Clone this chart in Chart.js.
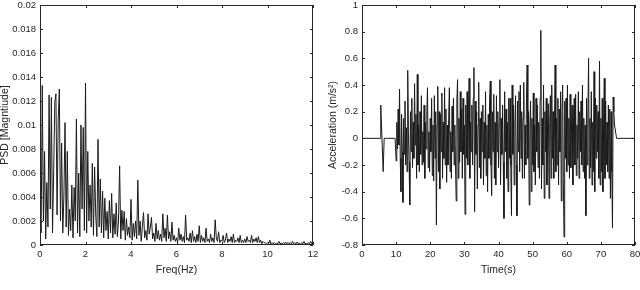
<!DOCTYPE html>
<html>
<head>
<meta charset="utf-8">
<script src="https://cdn.jsdelivr.net/npm/chart.js@4.4.1/dist/chart.umd.min.js"></script>
<style>
  html, body { margin: 0; padding: 0; background: #fff; }
  #wrap { width: 640px; height: 290px; display: flex; }
  canvas { display: block; }
</style>
</head>
<body>
<div id="wrap">
  <canvas id="psd_chart" width="320" height="290"></canvas>
  <canvas id="acc_chart" width="320" height="290"></canvas>
</div>
<script>
// PSD spectrum, one value per 0.05 Hz bin, in units of 1e-3
var psdStep = 0.05;
var psdMilli = [
    3.5, 1, 13.3, 2, 7.8, 0.5, 5.2, 1.5, 12.5, 3, 12.3, 1, 6, 11.9, 12.6, 2.5, 10.4, 13.0, 2, 8.5,
    1, 4, 10.2, 1.5, 7.8, 0.8, 3, 1.2, 5, 0.6, 4.8, 2, 10.5, 1, 6, 0.7, 10, 3, 9.8, 1.2,
    13.5, 1, 7.8, 2, 5, 1.5, 6.8, 0.8, 6.5, 2.5, 0.7, 8.8, 1.5, 5.5, 1, 4.5, 0.6, 3.9, 1.2, 2.8,
    0.5, 3.7, 1, 4.3, 0.6, 2.6, 0.9, 3.5, 0.7, 2, 6.6, 0.5, 2.9, 1.2, 2.8, 0.4, 2.2, 0.8, 1.5, 0.6,
    3.8, 0.4, 1.8, 0.7, 2, 0.5, 5.4, 0.8, 2, 0.3, 1.6, 2.7, 0.6, 1.2, 0.4, 2.6, 0.9, 1.5, 2.3, 0.5,
    1, 0.3, 1.8, 0.5, 1.2, 0.4, 0.9, 0.3, 2.6, 0.6, 1.4, 0.3, 2.5, 0.5, 1.1, 0.3, 1.9, 0.4, 0.8, 0.3,
    0.6, 0.2, 1.4, 0.4, 0.9, 0.3, 0.7, 0.2, 2.5, 0.4, 0.6, 0.3, 1, 0.2, 1.2, 0.3, 0.7, 0.2, 0.9, 0.3,
    1.6, 0.2, 0.8, 0.3, 0.6, 0.2, 1.4, 0.3, 0.5, 0.2, 0.9, 0.3, 0.6, 0.2, 2.1, 0.6, 0.3, 1.1, 0.2, 0.4,
    0.3, 0.8, 0.2, 0.4, 1, 0.2, 0.5, 0.3, 0.7, 0.2, 0.9, 0.2, 0.4, 0.3, 0.6, 0.2, 0.8, 0.2, 0.4, 0.2,
    0.5, 0.2, 0.7, 0.3, 0.4, 0.2, 0.8, 0.2, 0.5, 0.3, 0.6, 0.2, 0.7, 0.2, 0.4, 0.1, 0.3, 0.2, 0.2, 0.1,
    0.2, 0.1, 0.4, 0.1, 0.2, 0.1, 0.2, 0.1, 0.15, 0.1, 0.3, 0.1, 0.15, 0.1, 0.2, 0.1, 0.25, 0.1, 0.2, 0.1,
    0.2, 0.1, 0.3, 0.1, 0.2, 0.1, 0.25, 0.1, 0.15, 0.05, 0.2, 0.1, 0.3, 0.1, 0.15, 0.05, 0.2, 0.1, 0.3, 0.1,
    0.05
];

// acceleration record: quiet lead-in, noisy part sampled every 0.2 s, quiet tail
var accLeadTime  = [0, 5.3, 5.5, 6.2, 6.5, 9.7, 10.0];
var accLeadValue = [0, 0, 0.25, -0.25, 0, 0, -0.17];
var accNoiseStart = 10.2;
var accStep = 0.2;
var accNoise = [
    0.12, -0.08, 0.22, -0.05, 0.37,    -0.15, -0.4, 0.18, -0.1, -0.48,
    0.15, -0.12, 0.28, -0.2, 0.08,     -0.25, 0.51, 0.05, -0.18, -0.5,
    0.2, -0.1, 0.3, -0.22, 0.12,       -0.15, 0.41, -0.05, 0.18, -0.3,
    0.48, -0.2, 0.1, -0.25, 0.2,       -0.12, 0.32, -0.2, 0.05, -0.18,
    0.25, -0.3, 0.12, -0.08, 0.2,      0.38, -0.22, 0.05, -0.25, 0.15,
    -0.1, 0.3, -0.28, 0.1, -0.32,      0.32, -0.15, 0.2, -0.65, 0.1,
    0.39, -0.25, 0.2, -0.38, 0.18,     -0.1, 0.34, -0.3, 0.12, -0.15,
    0.38, -0.2, 0.22, -0.33, 0.1,      -0.2, 0.15, 0.38, -0.25, 0.05,
    -0.3, 0.24, -0.1, 0.3, -0.2,       0.1, -0.2, -0.47, 0.28, 0.44,
    -0.3, 0.15, -0.18, 0.35, -0.1,     0.22, -0.3, 0.3, -0.12, 0.1,
    -0.57, 0.25, -0.15, 0.35, -0.2,    0.15, 0.45, -0.3, 0.12, -0.1,
    0.25, -0.2, 0.3, 0.53, -0.55,      0.28, -0.12, 0.2, -0.38, 0.1,
    0.42, -0.22, 0.15, -0.3, 0.2,      -0.1, 0.25, -0.35, 0.12, -0.15,
    0.35, -0.28, 0.1, -0.4, 0.18,      -0.15, 0.3, 0.43, -0.2, -0.43,
    0.2, -0.1, 0.33, -0.3, 0.12,       -0.35, 0.32, -0.1, 0.2, -0.22,
    0.1, 0.44, -0.35, 0.15, -0.12,     0.25, -0.18, -0.6, 0.35, -0.1,
    0.22, -0.3, 0.12, -0.4, 0.3,       -0.15, 0.3, -0.2, -0.58, 0.4,
    -0.12, 0.25, -0.35, 0.1, 0.32,     -0.2, -0.58, 0.28, -0.1, 0.35,
    -0.25, 0.4, -0.15, 0.2, -0.3,      0.15, 0.42, -0.3, 0.1, -0.2,
    0.3, 0.55, -0.15, 0.2, -0.5,       0.1, 0.28, -0.4, 0.15, -0.2,
    0.34, -0.25, 0.1, -0.35, 0.3,      -0.1, 0.25, -0.22, 0.12, -0.3,
    0.3, 0.81, -0.38, 0.15, -0.2,      0.4, -0.45, 0.2, -0.1, 0.3,
    -0.35, 0.15, 0.26, -0.45, 0.12,    0.32, -0.3, 0.4, -0.15, 0.2,
    -0.3, 0.1, 0.55, -0.25, 0.15,      -0.2, 0.3, -0.35, 0.22, -0.1,
    0.35, -0.47, 0.2, 0.4, -0.3,       -0.74, 0.28, -0.15, 0.3, -0.25,
    0.4, -0.2, 0.15, -0.3, 0.33,       -0.22, 0.1, 0.25, -0.35, 0.12,
    0.3, -0.2, 0.33, -0.28, 0.1,       -0.15, 0.35, -0.3, 0.2, -0.1,
    0.28, -0.2, 0.4, -0.25, 0.15,      -0.3, 0.1, -0.58, 0.3, -0.2,
    0.2, 0.6, -0.3, 0.15, -0.22,       0.35, -0.35, 0.12, -0.25, 0.5,
    -0.4, 0.3, -0.15, 0.25, -0.1,      0.2, -0.3, 0.58, -0.35, 0.15,
    -0.25, 0.3, -0.4, 0.1, 0.45,       -0.3, 0.28, -0.2, 0.12, -0.25,
    0.25, -0.3, 0.22, -0.45, 0.2,      -0.25, -0.67, 0.31, 0.2, 0.1
];
var accTailTime  = [74.6, 80];
var accTailValue = [0, 0];

var textColor = '#262626';
var tickFont = { family: "'Liberation Sans', Arial, sans-serif", size: 9.5 };
var titleFont = { family: "'Liberation Sans', Arial, sans-serif", size: 10.5, lineHeight: 1 };

// MATLAB style box with inward ticks on all four sides
var matlabBox = {
    id: 'matlabBox',
    afterDraw: function (chart) {
        var ctx = chart.ctx, a = chart.chartArea;
        var xs = chart.scales.x, ys = chart.scales.y;
        ctx.save();
        ctx.strokeStyle = textColor;
        ctx.lineWidth = 1;
        ctx.strokeRect(Math.round(a.left) + 0.5, Math.round(a.top) + 0.5,
            Math.round(a.right - a.left) - 1, Math.round(a.bottom - a.top) - 1);
        ctx.beginPath();
        xs.ticks.forEach(function (t, i) {
            var px = Math.round(xs.getPixelForTick(i)) + 0.5;
            ctx.moveTo(px, a.bottom); ctx.lineTo(px, a.bottom - 3);
            ctx.moveTo(px, a.top); ctx.lineTo(px, a.top + 3);
        });
        ys.ticks.forEach(function (t, i) {
            var py = Math.round(ys.getPixelForTick(i)) + 0.5;
            ctx.moveTo(a.left, py); ctx.lineTo(a.left + 3, py);
            ctx.moveTo(a.right, py); ctx.lineTo(a.right - 3, py);
        });
        ctx.stroke();
        ctx.restore();
    }
};

function buildPsd() {
    return psdMilli.map(function (v, i) {
        return { x: i * psdStep, y: v / 1000 };
    });
}

function buildAcc() {
    var pts = [];
    accLeadTime.forEach(function (t, i) { pts.push({ x: t, y: accLeadValue[i] }); });
    accNoise.forEach(function (v, i) { pts.push({ x: accNoiseStart + i * accStep, y: v }); });
    accTailTime.forEach(function (t, i) { pts.push({ x: t, y: accTailValue[i] }); });
    return pts;
}

function axisX(max, step, label) {
    return {
        type: 'linear', min: 0, max: max,
        grid: { display: false, drawTicks: false },
        border: { display: false },
        ticks: { stepSize: step, padding: 4, color: textColor, font: tickFont, maxRotation: 0 },
        title: { display: true, text: label, color: textColor, font: titleFont, padding: 0 },
        afterFit: function (s) { s.height = 30; s.paddingLeft = 0; s.paddingRight = 0; }
    };
}

function axisY(min, max, step, digits, label, width, titlePad) {
    return {
        min: min, max: max,
        grid: { display: false, drawTicks: false },
        border: { display: false },
        ticks: {
            stepSize: step, padding: 4, color: textColor, font: tickFont,
            callback: function (v) { return String(+v.toFixed(digits)); }
        },
        title: { display: true, text: label, color: textColor, font: titleFont, padding: { top: titlePad, bottom: 0 } },
        afterFit: function (s) { s.width = width; s.paddingTop = 0; s.paddingBottom = 0; }
    };
}

function getConfig(type) {
    var config = null;
    var common = {
        responsive: false,
        animation: false,
        plugins: { legend: { display: false }, tooltip: { enabled: false } }
    };

    if (type === 'psd') {
        config = {
            type: 'line',
            data: {
                datasets: [{
                    data: buildPsd(),
                    borderColor: '#1a1a1a',
                    borderWidth: 1,
                    pointRadius: 0,
                    tension: 0
                }]
            },
            options: Object.assign({}, common, {
                layout: { padding: { left: 0, right: 7, top: 5, bottom: 15 } },
                scales: {
                    x: axisX(12, 2, 'Freq(Hz)'),
                    y: axisY(0, 0.02, 0.002, 3, 'PSD [Magntiude]', 40, 0)
                }
            }),
            plugins: [matlabBox]
        };
    } else if (type === 'acc') {
        config = {
            type: 'line',
            data: {
                datasets: [{
                    data: buildAcc(),
                    borderColor: '#1a1a1a',
                    borderWidth: 1,
                    pointRadius: 0,
                    tension: 0
                }]
            },
            options: Object.assign({}, common, {
                layout: { padding: { left: 0, right: 5, top: 5, bottom: 15 } },
                scales: {
                    x: axisX(80, 10, 'Time(s)'),
                    y: axisY(-0.8, 1, 0.2, 1, 'Acceleration (m/s\u00B2)', 42, 8)
                }
            }),
            plugins: [matlabBox]
        };
    }
    return config;
}

new Chart(document.getElementById('psd_chart').getContext('2d'), getConfig('psd'));
new Chart(document.getElementById('acc_chart').getContext('2d'), getConfig('acc'));
</script>
</body>
</html>
